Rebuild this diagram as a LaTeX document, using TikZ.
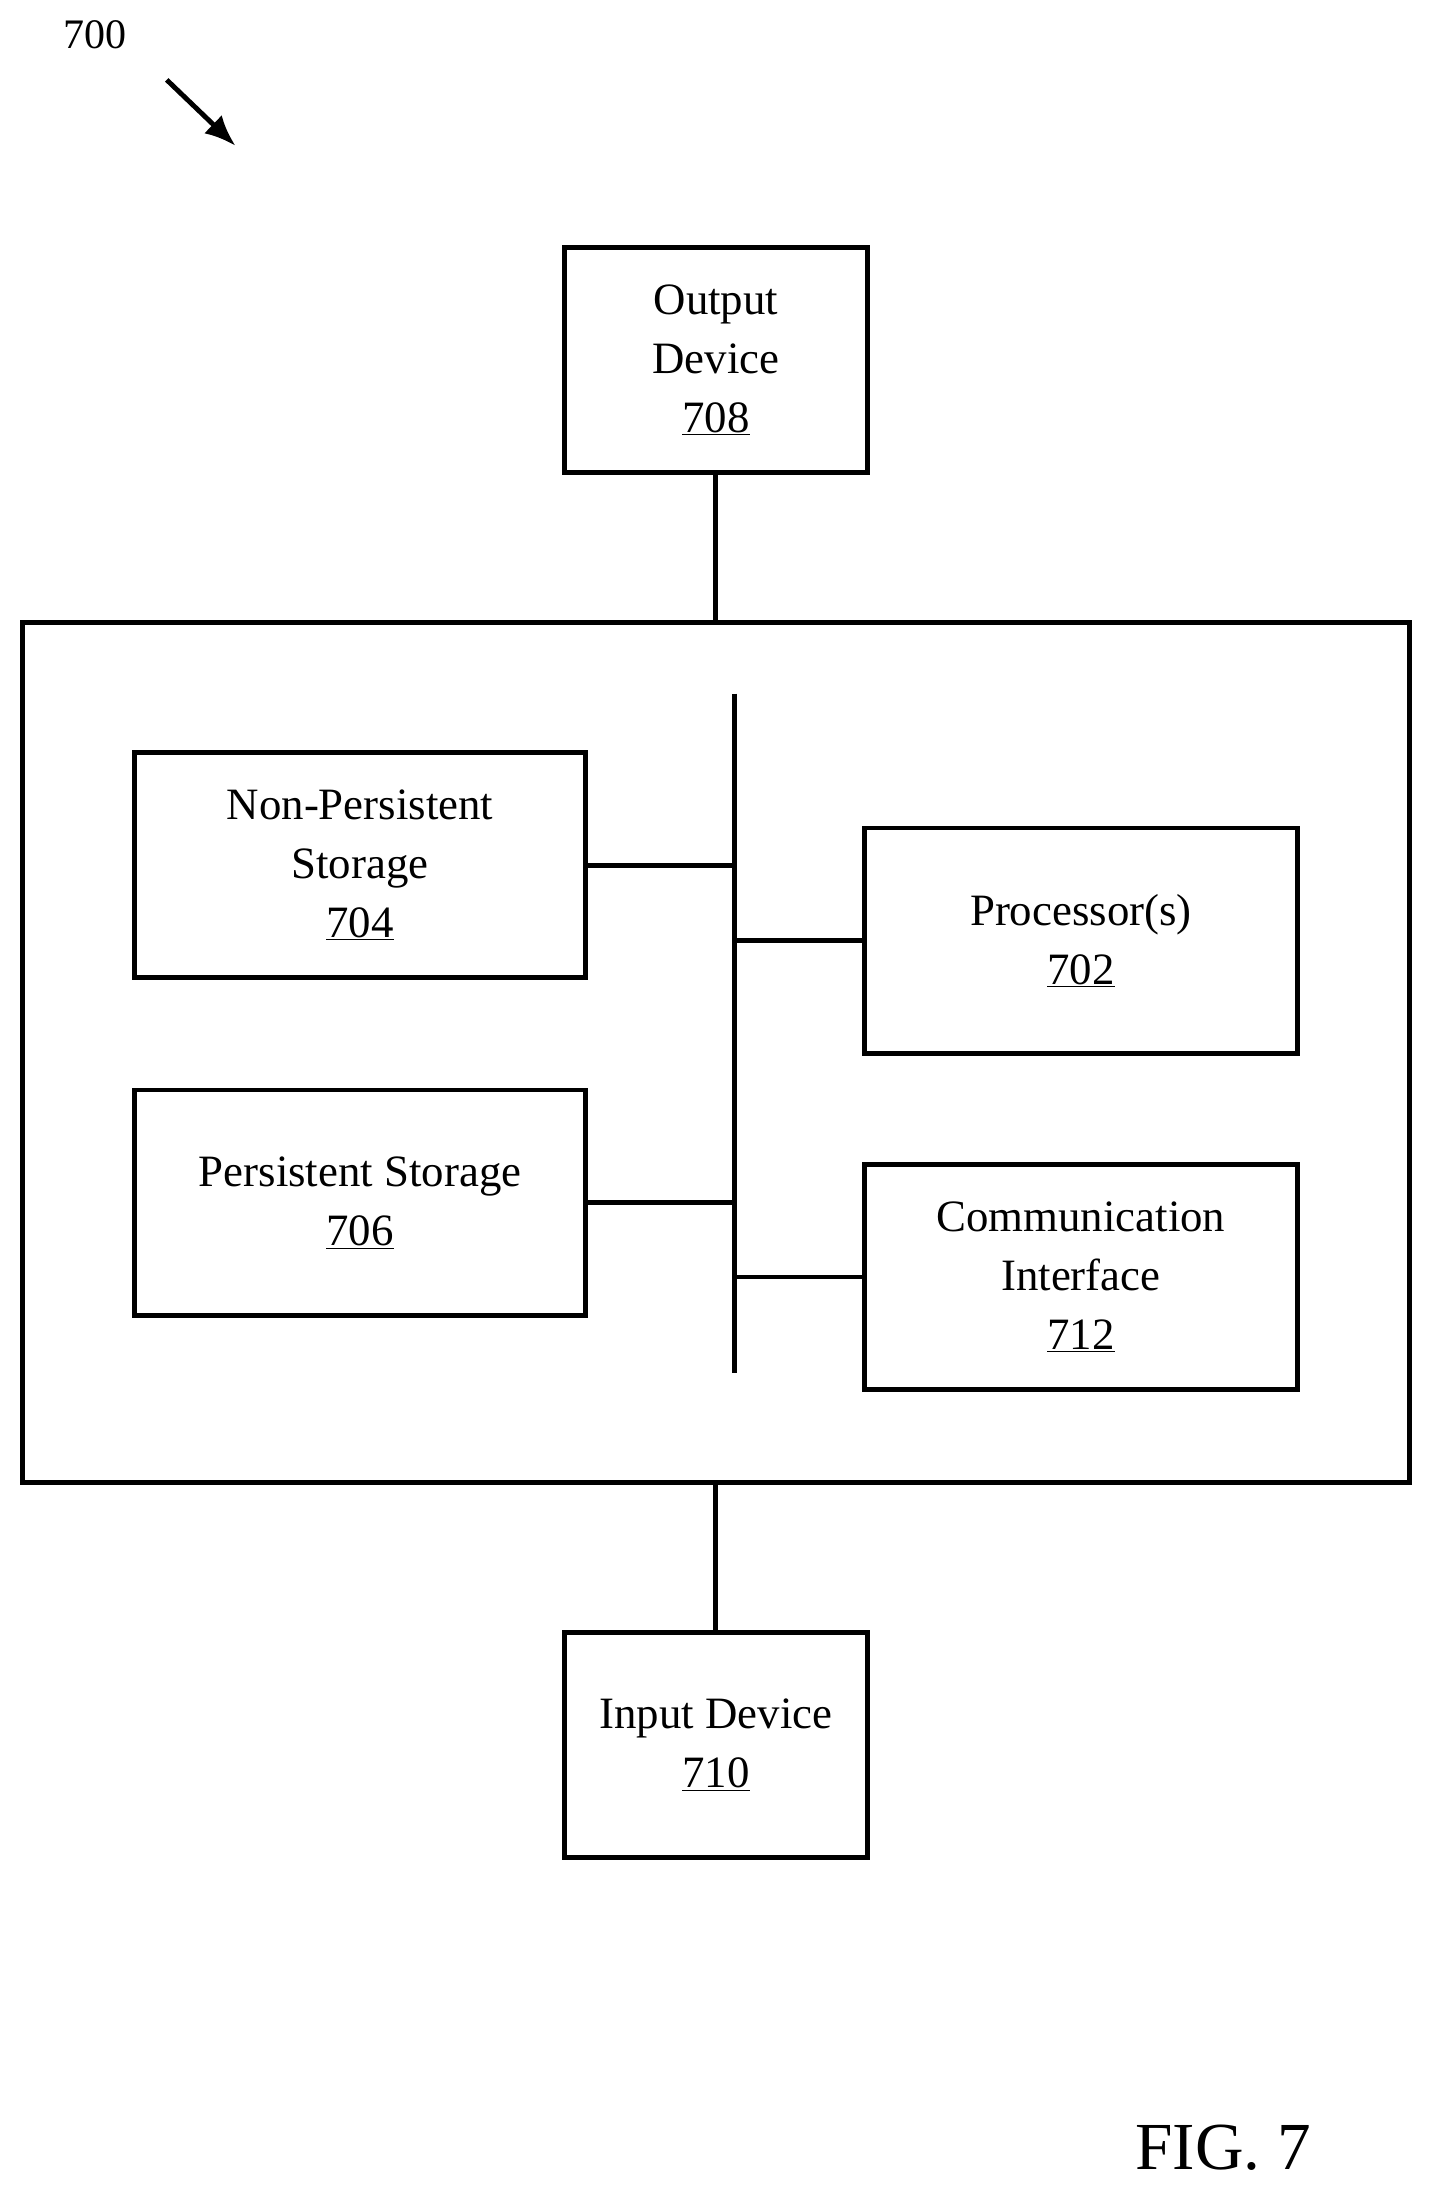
\documentclass[tikz,border=0pt]{standalone}
\usepackage{fontspec}
\setmainfont{Liberation Serif}
\usetikzlibrary{arrows.meta}
\begin{document}
\begin{tikzpicture}[x=1pt,y=-1pt,
  box/.style={draw,line width=3.5pt,inner sep=0pt,align=center,font=\fontsize{32}{42}\selectfont},
  ln/.style={line width=3.5pt}]
\useasboundingbox (0,0) rectangle (1024,1571);
\node[box,minimum width=216pt,minimum height=161pt] (out) at (511,257) {Output\\Device\\\underline{708}};
\node[draw,line width=3.5pt,minimum width=990pt,minimum height=614pt,inner sep=0pt] (main) at (511,751) {};
\node[box,minimum width=322pt,minimum height=161pt] (np) at (257,617.5) {Non-Persistent\\Storage\\\underline{704}};
\node[box,minimum width=322pt,minimum height=161pt] (ps) at (257,858.5) {Persistent Storage\\\underline{706}};
\node[box,minimum width=309pt,minimum height=161pt] (proc) at (771.5,671.5) {Processor(s)\\\underline{702}};
\node[box,minimum width=309pt,minimum height=161pt] (comm) at (771.5,911.5) {Communication\\Interface\\\underline{712}};
\node[box,minimum width=216pt,minimum height=161pt] (in) at (511,1245.5) {Input Device\\\underline{710}};
\coordinate (bt) at (524,495);
\coordinate (bb) at (524,980);
\draw[ln] (bt) -- (bb);
\draw[ln] (np.east) -- (np.east -| bt);
\draw[ln] (ps.east) -- (ps.east -| bt);
\draw[ln] (proc.west) -- (proc.west -| bt);
\draw[ln] (comm.west) -- (comm.west -| bt);
\draw[ln] (out.south) -- (main.north -| out.south);
\draw[ln] (in.north) -- (main.south -| in.north);
\node[font=\fontsize{30}{36}\selectfont] (lbl) at (68,25) {700};
\coordinate (a1) at (119,57);
\coordinate (a2) at (168,104);
\draw[line width=3.5pt,-{Latex[length=22pt,width=18pt]}] (a1) -- (a2);
\node[font=\fontsize{48}{56}\selectfont] (fig) at (873,1533) {FIG. 7};
\end{tikzpicture}
\end{document}
